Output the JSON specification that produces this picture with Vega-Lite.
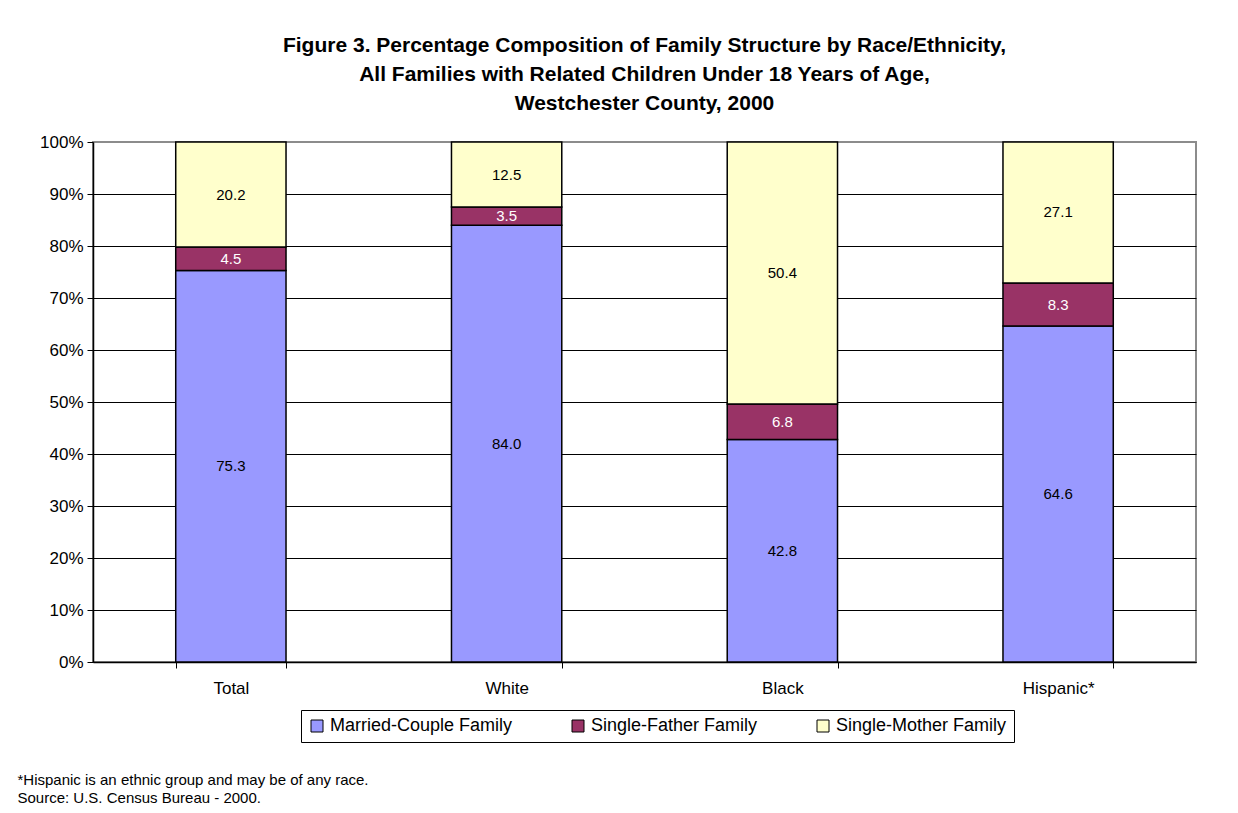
{
  "$schema": "https://vega.github.io/schema/vega-lite/v6.json",
  "autosize": "none",
  "width": 1103,
  "height": 520,
  "padding": {"left": 93, "top": 142, "right": 42, "bottom": 151},
  "background": "white",
  "config": {
    "font": "Liberation Sans",
    "view": {"stroke": "#8c8c8c", "strokeWidth": 2}
  },
  "title": {
    "text": ["Figure 3. Percentage Composition of Family Structure by Race/Ethnicity,", "All Families with Related Children Under 18 Years of Age,", "Westchester County, 2000"],
    "font": "Liberation Sans",
    "fontSize": 21,
    "fontWeight": "bold",
    "lineHeight": 29,
    "color": "black",
    "anchor": "middle",
    "offset": 19
  },
  "data": {
    "values": [
      {"group": "Total", "series": "Married-Couple Family", "value": 75.3},
      {"group": "Total", "series": "Single-Father Family", "value": 4.5},
      {"group": "Total", "series": "Single-Mother Family", "value": 20.2},
      {"group": "White", "series": "Married-Couple Family", "value": 84.0},
      {"group": "White", "series": "Single-Father Family", "value": 3.5},
      {"group": "White", "series": "Single-Mother Family", "value": 12.5},
      {"group": "Black", "series": "Married-Couple Family", "value": 42.8},
      {"group": "Black", "series": "Single-Father Family", "value": 6.8},
      {"group": "Black", "series": "Single-Mother Family", "value": 50.4},
      {"group": "Hispanic*", "series": "Married-Couple Family", "value": 64.6},
      {"group": "Hispanic*", "series": "Single-Father Family", "value": 8.3},
      {"group": "Hispanic*", "series": "Single-Mother Family", "value": 27.1}
    ]
  },
  "transform": [
    {"stack": "value", "groupby": ["group"], "sort": [{"field": "series", "order": "ascending"}], "as": ["y0", "y1"]},
    {"calculate": "(datum.y0 + datum.y1) / 2", "as": "ymid"}
  ],
  "encoding": {
    "x": {
      "field": "group",
      "type": "nominal",
      "sort": ["Total", "White", "Black", "Hispanic*"],
      "scale": {"paddingInner": 0.6, "paddingOuter": 0.3},
      "axis": {
        "labelAngle": 0,
        "labelFontSize": 17,
        "labelColor": "black",
        "labelPadding": 12,
        "tickBand": "extent",
        "tickSize": 6,
        "tickColor": "black",
        "domainColor": "black",
        "domainWidth": 1.5,
        "title": ["*Hispanic is an ethnic group and may be of any race.", "Source: U.S. Census Bureau - 2000."],
        "titleFontSize": 15,
        "titleFontWeight": "normal",
        "titleColor": "black",
        "titleAnchor": "start",
        "titleAlign": "left",
        "titleBaseline": "alphabetic",
        "titleLineHeight": 18,
        "titleX": -76,
        "titleY": 122
      }
    }
  },
  "layer": [
    {
      "mark": {"type": "bar", "stroke": "black", "strokeWidth": 1.5},
      "encoding": {
        "y": {
          "field": "y0",
          "type": "quantitative",
          "scale": {"domain": [0, 100]},
          "axis": {
            "values": [0, 10, 20, 30, 40, 50, 60, 70, 80, 90, 100],
            "labelExpr": "datum.value + '%'",
            "labelFontSize": 17,
            "labelColor": "black",
            "labelPadding": 4,
            "tickSize": 6,
            "tickColor": "black",
            "domainColor": "black",
            "domainWidth": 1.5,
            "gridColor": {"condition": {"test": "datum.value >= 100", "value": "#8c8c8c"}, "value": "black"},
            "gridWidth": 1,
            "title": null
          }
        },
        "y2": {"field": "y1"},
        "color": {
          "field": "series",
          "type": "nominal",
          "scale": {
            "domain": ["Married-Couple Family", "Single-Father Family", "Single-Mother Family"],
            "range": ["#9999FF", "#993366", "#FFFFCC"]
          },
          "legend": {
            "orient": "none",
            "direction": "horizontal",
            "columns": 3,
            "legendX": 208,
            "legendY": 568,
            "title": null,
            "symbolType": "square",
            "symbolSize": 144,
            "symbolStrokeColor": "black",
            "symbolStrokeWidth": 1,
            "symbolOpacity": 1,
            "labelFontSize": 18,
            "labelColor": "black",
            "labelOffset": 4,
            "labelLimit": 300,
            "columnPadding": 56,
            "strokeColor": "black",
            "padding": 7
          }
        }
      }
    },
    {
      "mark": {"type": "text", "fontSize": 15, "font": "Liberation Sans", "baseline": "middle"},
      "encoding": {
        "y": {"field": "ymid", "type": "quantitative"},
        "text": {"field": "value", "type": "quantitative", "format": ".1f"},
        "color": {
          "condition": {"test": "datum.series === 'Single-Father Family'", "value": "white"},
          "value": "black"
        }
      }
    }
  ]
}
